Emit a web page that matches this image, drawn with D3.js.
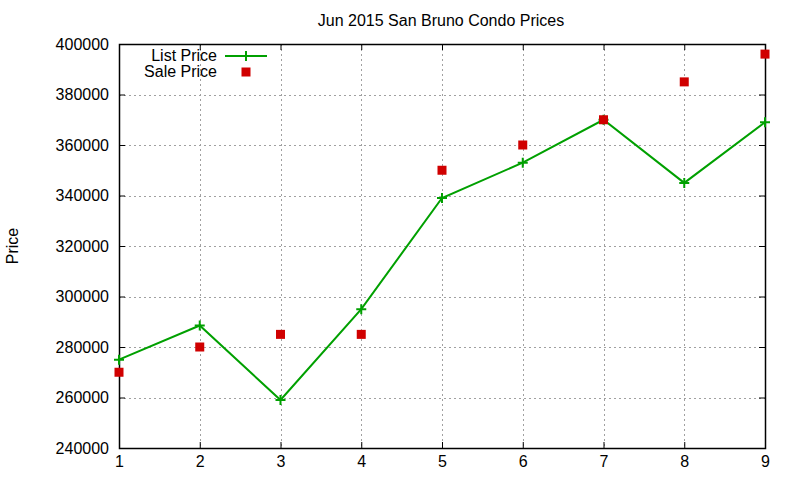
<!DOCTYPE html>
<html>
<head>
<meta charset="utf-8">
<script src="https://cdn.jsdelivr.net/npm/d3@7"></script>
<style>
  body { margin: 0; background: #fff; }
  svg { display: block; font-family: "Liberation Sans", Arial, sans-serif; }
</style>
</head>
<body>
<svg id="chart" width="800" height="480"></svg>
<script>
const months = [1, 2, 3, 4, 5, 6, 7, 8, 9];
const listPrice = [275000, 288500, 259000, 295000, 339000, 353000, 370000, 345000, 369000];
const salePrice = [270000, 280000, 285000, 285000, 350000, 360000, 370000, 385000, 396000];
const yTicks = [240000, 260000, 280000, 300000, 320000, 340000, 360000, 380000, 400000];

const width = 800, height = 480;
const margin = { top: 44, right: 35, bottom: 32, left: 119 };

const svg = d3.select("#chart");

const x = d3.scaleLinear()
  .domain([1, 9])
  .range([margin.left, width - margin.right]);

const y = d3.scaleLinear()
  .domain([240000, 400000])
  .range([height - margin.bottom, margin.top]);

// grid
const grid = svg.append("g")
  .attr("stroke", "#a0a0a0")
  .attr("stroke-width", 1)
  .attr("stroke-dasharray", "2,3");

grid.selectAll("line.gx")
  .data(months.slice(1, -1))
  .join("line")
  .attr("x1", d => Math.round(x(d)) + 0.5)
  .attr("x2", d => Math.round(x(d)) + 0.5)
  .attr("y1", margin.top)
  .attr("y2", height - margin.bottom);

grid.selectAll("line.gy")
  .data(yTicks.slice(1, -1))
  .enter().append("line")
  .attr("x1", margin.left)
  .attr("x2", width - margin.right)
  .attr("y1", d => Math.round(y(d)) + 0.5)
  .attr("y2", d => Math.round(y(d)) + 0.5);

// axes (ticks pointing inward, mirrored)
const fontSize = 16;
svg.append("g")
  .attr("transform", `translate(0,${height - margin.bottom})`)
  .call(d3.axisBottom(x).tickValues(months).tickFormat(d3.format("d")).tickSizeInner(-6).tickSizeOuter(0).tickPadding(8))
  .call(g => g.select(".domain").remove())
  .call(g => g.selectAll("text").attr("font-size", fontSize).attr("fill", "#000").attr("font-family", "Liberation Sans, Arial, sans-serif"));

svg.append("g")
  .attr("transform", `translate(${margin.left},0)`)
  .call(d3.axisLeft(y).tickValues(yTicks).tickFormat(d3.format("d")).tickSizeInner(-6).tickSizeOuter(0).tickPadding(10))
  .call(g => g.select(".domain").remove())
  .call(g => g.selectAll("text").attr("font-size", fontSize).attr("fill", "#000").attr("font-family", "Liberation Sans, Arial, sans-serif"));

svg.append("g")
  .attr("transform", `translate(${width - margin.right},0)`)
  .call(d3.axisRight(y).tickValues(yTicks).tickFormat("").tickSizeInner(-6).tickSizeOuter(0))
  .call(g => g.select(".domain").remove());

svg.append("g")
  .attr("transform", `translate(0,${margin.top})`)
  .call(d3.axisTop(x).tickValues(months).tickFormat("").tickSizeInner(-6).tickSizeOuter(0))
  .call(g => g.select(".domain").remove());

// frame
svg.append("rect")
  .attr("x", margin.left + 0.5)
  .attr("y", margin.top + 0.5)
  .attr("width", width - margin.right - margin.left)
  .attr("height", height - margin.bottom - margin.top)
  .attr("fill", "none")
  .attr("stroke", "#000")
  .attr("stroke-width", 1.5);

// title + y label
svg.append("text")
  .attr("x", 441)
  .attr("y", 26)
  .attr("text-anchor", "middle")
  .attr("font-size", 16)
  .text("Jun 2015 San Bruno Condo Prices");

svg.append("text")
  .attr("transform", "translate(18,246) rotate(-90)")
  .attr("text-anchor", "middle")
  .attr("font-size", 16)
  .text("Price");

// list price line
const green = "#00a000";
const red = "#d00000";

const line = d3.line()
  .x((d, i) => x(months[i]))
  .y(d => y(d));

svg.append("path")
  .datum(listPrice)
  .attr("fill", "none")
  .attr("stroke", green)
  .attr("stroke-width", 2)
  .attr("d", line);

const plus = (sel, s) => sel.append("path")
  .attr("fill", "none")
  .attr("stroke", green)
  .attr("stroke-width", 2)
  .attr("d", `M${-s},0H${s}M0,${-s}V${s}`);

svg.append("g").selectAll("g")
  .data(listPrice)
  .join("g")
  .attr("transform", (d, i) => `translate(${x(months[i])},${y(d)})`)
  .each(function () { plus(d3.select(this), 5); });

// sale price squares
svg.append("g").selectAll("rect")
  .data(salePrice)
  .join("rect")
  .attr("x", (d, i) => x(months[i]) - 4.5)
  .attr("y", d => y(d) - 4.5)
  .attr("width", 9)
  .attr("height", 9)
  .attr("fill", red);

// legend
const legend = svg.append("g").attr("font-size", 16);
legend.append("text").attr("x", 217).attr("y", 61).attr("text-anchor", "end").text("List Price");
legend.append("text").attr("x", 217).attr("y", 77).attr("text-anchor", "end").text("Sale Price");
legend.append("line")
  .attr("x1", 225).attr("x2", 267).attr("y1", 56).attr("y2", 56)
  .attr("stroke", green).attr("stroke-width", 2);
const lp = legend.append("g").attr("transform", "translate(246,56)");
plus(lp, 5);
legend.append("rect")
  .attr("x", 241.5).attr("y", 67.5).attr("width", 9).attr("height", 9)
  .attr("fill", red);
</script>
</body>
</html>
